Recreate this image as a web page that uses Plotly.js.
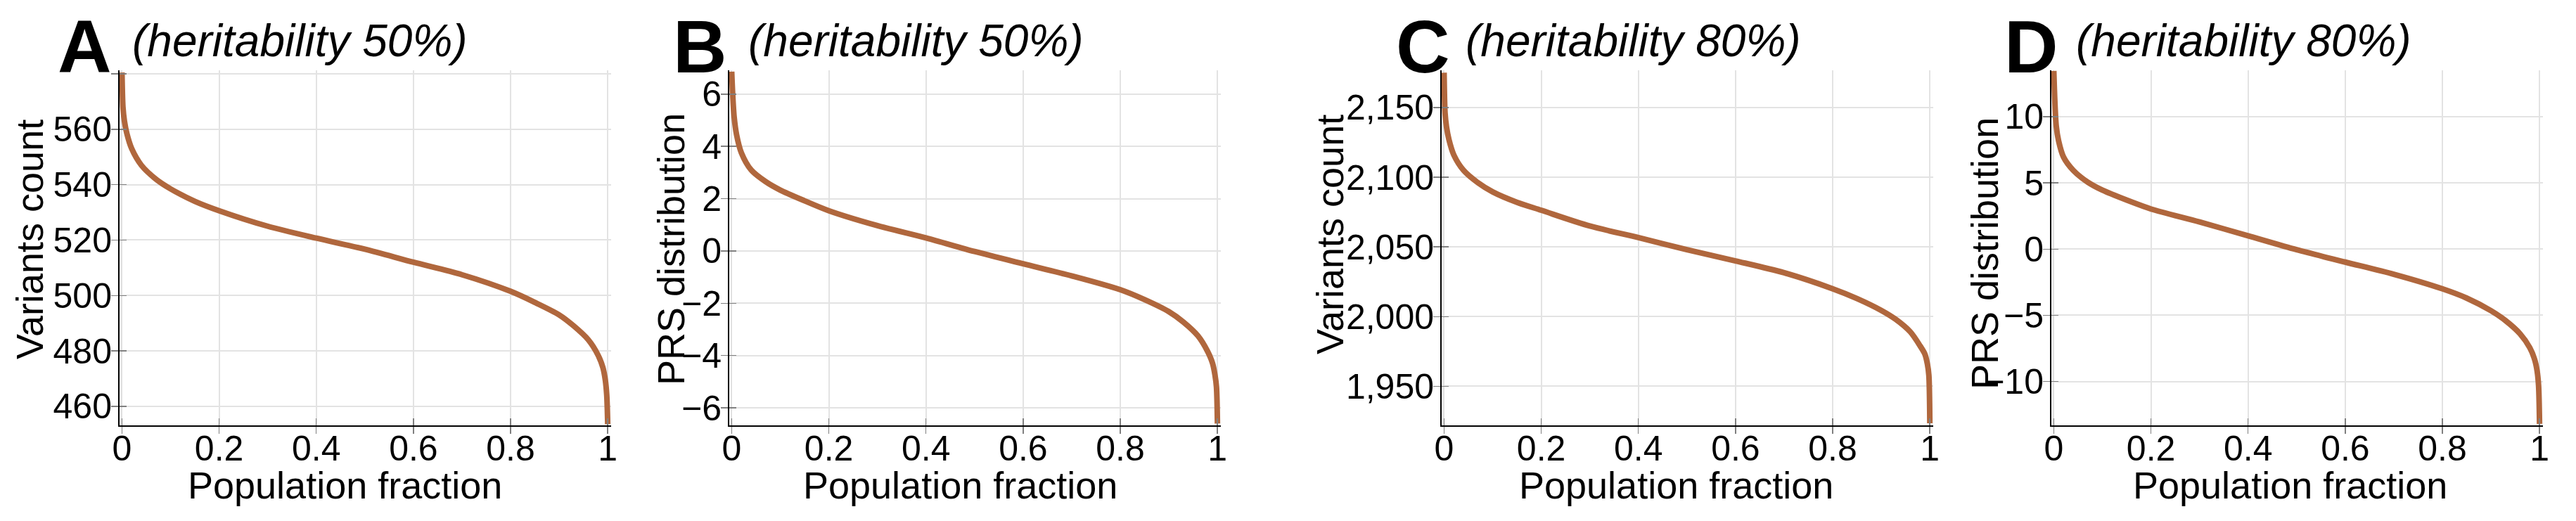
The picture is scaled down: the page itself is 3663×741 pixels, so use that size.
<!DOCTYPE html>
<html>
<head>
<meta charset="utf-8">
<script src="https://cdn.plot.ly/plotly-3.0.1.min.js"></script>
<style>html, body { margin: 0; padding: 0; background: #fff; }</style>
</head>
<body>
<div id="chart" style="width:3663px;height:741px"></div>
<script>
// population fraction (sorted), shared by all four panels
const fraction = [0, 0.002, 0.005, 0.01, 0.02, 0.04, 0.07, 0.1, 0.15, 0.2, 0.3, 0.4, 0.5,
                  0.6, 0.7, 0.8, 0.85, 0.9, 0.93, 0.96, 0.98, 0.99, 0.995, 0.998, 1];

// A: variants count, heritability 50%
const countH50 = [580.5, 568, 563, 558.5, 553, 547, 542, 538.5, 534, 530.6, 525, 520.7, 516.7,
                  512, 507.5, 501.5, 497.5, 493, 489, 484, 478.5, 474, 469.5, 464, 453.5];
// B: PRS, heritability 50%
const prsH50 = [6.86, 6.0, 5.13, 4.45, 3.75, 3.1, 2.65, 2.33, 1.92, 1.54, 0.97, 0.5, -0.02,
                -0.49, -0.95, -1.48, -1.86, -2.32, -2.72, -3.25, -3.85, -4.3, -4.75, -5.2, -6.6];
// C: variants count, heritability 80%
const countH80 = [2175, 2146, 2136, 2127, 2116, 2105, 2096, 2089.5, 2082, 2076.3, 2065, 2056.7, 2048,
                  2040, 2031.5, 2020, 2013, 2004.5, 1998, 1989, 1979, 1973, 1966, 1958, 1923.5];
// D: PRS, heritability 80%
const prsH80 = [13.45, 11.3, 9.3, 8.15, 6.95, 5.95, 5.05, 4.45, 3.7, 3.03, 2.05, 1.0, -0.05,
                -0.98, -1.9, -3.0, -3.7, -4.65, -5.4, -6.4, -7.45, -8.35, -9.2, -10.3, -13.2];

const xTicks = [0, 0.2, 0.4, 0.6, 0.8, 1];
const xTickText = ['0', '0.2', '0.4', '0.6', '0.8', '1'];
const countH50Ticks = [460, 480, 500, 520, 540, 560, 580];
const countH50TickText = ['460', '480', '500', '520', '540', '560', ''];
const prsH50Ticks = [-6, -4, -2, 0, 2, 4, 6];
const prsH50TickText = ['\u22126', '\u22124', '\u22122', '0', '2', '4', '6'];
const countH80Ticks = [1950, 2000, 2050, 2100, 2150];
const countH80TickText = ['1,950', '2,000', '2,050', '2,100', '2,150'];
const prsH80Ticks = [-10, -5, 0, 5, 10];
const prsH80TickText = ['\u221210', '\u22125', '0', '5', '10'];

const W = 3663, TOP = 100, BOTTOM = 605;
const FONT = 'Arial, "Liberation Sans", sans-serif';
const LINE = '#b0673d';
const X_RANGE = [-0.005, 1.007];

const px2x = px => px / W;
const px2y = py => (BOTTOM - py) / (BOTTOM - TOP);

const panels = [
    { letter: 'A', note: '(heritability 50%)', yTitle: 'Variants count', y: countH50,
      ticks: countH50Ticks, tickText: countH50TickText, range: [453.1, 581.3],
      plot: [170, 869], letterX: 121, noteX: 426, yTitleX: 42, yTitleY: 341, xTitleX: 490 },
    { letter: 'B', note: '(heritability 50%)', yTitle: 'PRS distribution', y: prsH50,
      ticks: prsH50Ticks, tickText: prsH50TickText, range: [-6.67, 6.91],
      plot: [1037, 1736], letterX: 996, noteX: 1302, yTitleX: 954, yTitleY: 355, xTitleX: 1365 },
    { letter: 'C', note: '(heritability 80%)', yTitle: 'Variants count', y: countH80,
      ticks: countH80Ticks, tickText: countH80TickText, range: [1922, 2176.7],
      plot: [2050, 2749], letterX: 2023, noteX: 2322, yTitleX: 1891, yTitleY: 334, xTitleX: 2383 },
    { letter: 'D', note: '(heritability 80%)', yTitle: 'PRS distribution', y: prsH80,
      ticks: prsH80Ticks, tickText: prsH80TickText, range: [-13.31, 13.5],
      plot: [2917, 3616], letterX: 2888, noteX: 3190, yTitleX: 2822, yTitleY: 361, xTitleX: 3256 },
];

const traces = [];
const annotations = [];
const layout = {
    width: W, height: 741,
    margin: { l: 0, r: 0, t: TOP, b: 741 - BOTTOM, pad: 0 },
    paper_bgcolor: '#fff', plot_bgcolor: '#fff',
    font: { family: FONT, color: '#000' },
    showlegend: false,
};

const tickStyle = { ticklen: 10, tickwidth: 1.5, tickcolor: '#808080', zeroline: false, tickmode: 'array' };
const axisCommon = Object.assign({}, tickStyle, {
    showline: true, linecolor: '#000', linewidth: 2, ticks: 'outside',
    showgrid: true, gridcolor: '#e3e3e3', gridwidth: 2,
});
// twin axes only add the inner half of each tick, so ticks cross the axis line
const innerTicks = Object.assign({}, tickStyle, {
    ticks: 'inside', showline: false, showgrid: false, showticklabels: false,
});

panels.forEach((p, i) => {
    const n = i === 0 ? '' : String(i + 1);
    const m = String(i + 5);
    traces.push({
        x: fraction, y: p.y, xaxis: 'x' + n, yaxis: 'y' + n,
        type: 'scatter', mode: 'lines', hoverinfo: 'skip',
        line: { color: LINE, width: 8, shape: 'spline', smoothing: 0.8 },
    });
    traces.push({ x: [], y: [], xaxis: 'x' + m, yaxis: 'y' + m, type: 'scatter', mode: 'lines', hoverinfo: 'skip' });
    layout['xaxis' + n] = Object.assign({}, axisCommon, {
        domain: [px2x(p.plot[0]), px2x(p.plot[1])], anchor: 'y' + n,
        range: X_RANGE, tickvals: xTicks, ticktext: xTickText, ticklabelstandoff: -22,
        tickfont: { family: FONT, size: 50, color: '#000' },
    });
    layout['yaxis' + n] = Object.assign({}, axisCommon, {
        anchor: 'x' + n, range: p.range, tickvals: p.ticks, ticktext: p.tickText, ticklabelstandoff: -11,
        tickfont: { family: FONT, size: 50, color: '#000' },
    });
    layout['xaxis' + m] = Object.assign({}, innerTicks, {
        overlaying: 'x' + n, anchor: 'y' + n, range: X_RANGE, tickvals: xTicks,
    });
    layout['yaxis' + m] = Object.assign({}, innerTicks, {
        overlaying: 'y' + n, anchor: 'x' + n, range: p.range, tickvals: p.ticks,
    });
    const base = { xref: 'paper', yref: 'paper', showarrow: false, xanchor: 'center', yanchor: 'middle' };
    annotations.push(
        Object.assign({}, base, { text: '<b>' + p.letter + '</b>', x: px2x(p.letterX), y: px2y(66),
            font: { family: FONT, size: 106, color: '#000' } }),
        Object.assign({}, base, { text: '<i>' + p.note + '</i>', x: px2x(p.noteX), y: px2y(58.5),
            font: { family: FONT, size: 64, color: '#000' } }),
        Object.assign({}, base, { text: p.yTitle, textangle: -90, x: px2x(p.yTitleX), y: px2y(p.yTitleY),
            font: { family: FONT, size: 54, color: '#000' } }),
        Object.assign({}, base, { text: 'Population fraction', x: px2x(p.xTitleX), y: px2y(690),
            font: { family: FONT, size: 54, color: '#000' } }),
    );
});
layout.annotations = annotations;

Plotly.newPlot('chart', traces, layout, { displayModeBar: false, staticPlot: true });
</script>
</body>
</html>
